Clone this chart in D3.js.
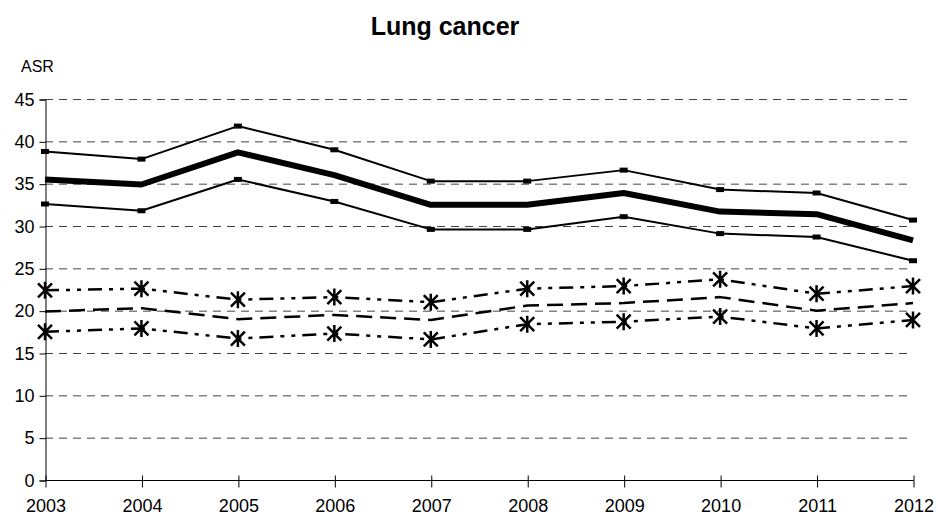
<!DOCTYPE html>
<html>
<head>
<script type="text/javascript" src="https://cdn.jsdelivr.net/npm/d3@7"></script>
<title>Lung cancer</title>
<style>
body { margin:0; background:#fff; }
text { font-family: "Liberation Sans", Arial, sans-serif; }
</style>
</head>
<body>
<div id="chart"></div>
<script type="text/javascript">
(function(){

var years = [2003,2004,2005,2006,2007,2008,2009,2010,2011,2012];
var yTicks = [0,5,10,15,20,25,30,35,40,45];

var asr      = [35.5,34.9,38.7,36.0,32.5,32.5,33.9,31.7,31.4,28.3];
var asrUpper = [38.8,37.9,41.8,39.0,35.3,35.3,36.6,34.3,33.9,30.7];
var asrLower = [32.6,31.8,35.5,32.9,29.6,29.6,31.1,29.1,28.7,25.9];

var ref      = [19.9,20.3,19.0,19.5,18.9,20.6,20.9,21.6,20.0,20.9];
var refUpper = [22.4,22.6,21.3,21.6,21.0,22.6,22.9,23.7,22.0,22.9];
var refLower = [17.5,17.9,16.7,17.3,16.6,18.4,18.7,19.3,17.9,18.9];

var w = 938, h = 521;
var left = 45, right = 913, top = 99, bottom = 480;

var svg = d3.select("#chart").append("svg")
  .attr("width", w).attr("height", h);

var x = d3.scaleLinear().domain([2003,2012]).range([left,right]);
var y = d3.scaleLinear().domain([0,45]).range([bottom,top]);

// gridlines
svg.selectAll("line.grid")
  .data(yTicks.filter(function(d){ return d > 0; }))
  .enter().append("line")
    .attr("class","grid")
    .attr("x1", left).attr("x2", right)
    .attr("y1", function(d){ return y(d)+0.5; })
    .attr("y2", function(d){ return y(d)+0.5; })
    .attr("stroke", "#444").attr("stroke-width", 1)
    .attr("stroke-dasharray", "8,6");

// axes
var yAxis = d3.axisLeft(y).tickValues(yTicks).tickSize(6).tickPadding(5);
var gy = svg.append("g").attr("transform","translate(" + (left+0.5) + ",0.5)").call(yAxis);
gy.select(".domain").attr("stroke","#000");
gy.selectAll("text").attr("font-size","18px").attr("fill","#000");

var xAxis = d3.axisBottom(x).tickValues(years).tickFormat(d3.format("d")).tickSize(7).tickPadding(12);
var gx = svg.append("g").attr("transform","translate(0.5," + (bottom+0.5) + ")").call(xAxis);
gx.select(".domain").attr("d", "M" + left + ",0H" + right).attr("stroke","#000");
gx.selectAll(".tick line").attr("y1",-5).attr("stroke","#000");
gx.selectAll("text").attr("font-size","18px").attr("fill","#000");

var line = d3.line()
  .x(function(d,i){ return x(years[i]); })
  .y(function(d){ return y(d); });

function drawLine(data, width, dash) {
  svg.append("path").datum(data)
    .attr("d", line)
    .attr("fill","none").attr("stroke","#000")
    .attr("stroke-width", width)
    .attr("stroke-linejoin","round")
    .attr("stroke-dasharray", dash || null);
}

var dashDotDot = "14,7,4,7,4,7";
drawLine(refUpper, 2.5, dashDotDot);
drawLine(refLower, 2.5, dashDotDot);
drawLine(ref, 2.5, "16,8");
drawLine(asrUpper, 2);
drawLine(asrLower, 2);
drawLine(asr, 6);

// square markers on the CI lines
[asrUpper, asrLower].forEach(function(s){
  svg.selectAll(null).data(s).enter().append("rect")
    .attr("x", function(d,i){ return x(years[i]) - 4; })
    .attr("y", function(d){ return y(d) - 2.5; })
    .attr("width", 8).attr("height", 5)
    .attr("fill","#000");
});

// asterisk markers
var star = "M-7,-7L7,7M-7,7L7,-7M0,-8.5L0,8.5";
[refUpper, refLower].forEach(function(s){
  svg.selectAll(null).data(s).enter().append("path")
    .attr("transform", function(d,i){ return "translate(" + x(years[i]) + "," + y(d) + ")"; })
    .attr("d", star)
    .attr("stroke","#000").attr("stroke-width", 2.5).attr("fill","none");
});

// title and axis label
svg.append("text").attr("x", 445).attr("y", 35)
  .attr("text-anchor","middle").attr("font-size","25px").attr("font-weight","bold")
  .text("Lung cancer");
svg.append("text").attr("x", 21).attr("y", 72)
  .attr("font-size","16px").text("ASR");

})();
</script>
</body></html>
